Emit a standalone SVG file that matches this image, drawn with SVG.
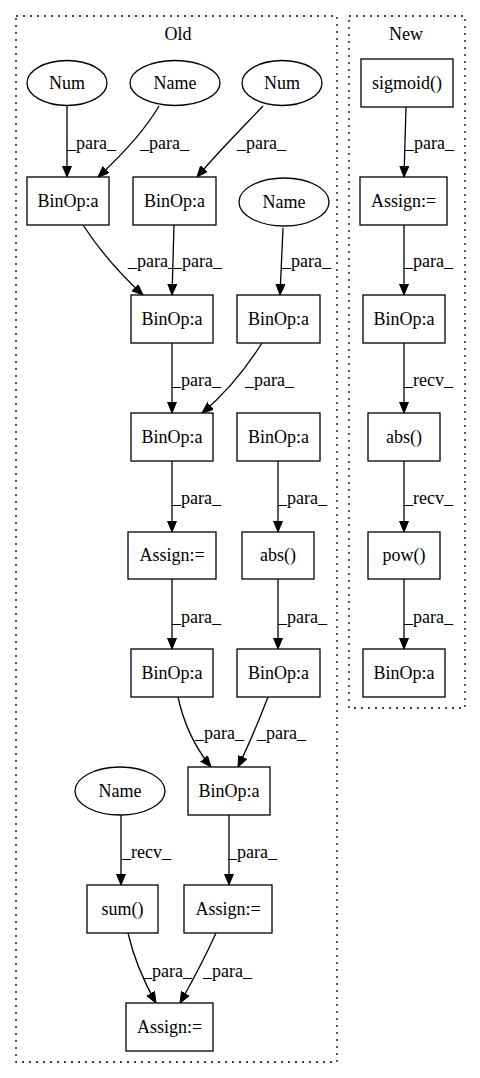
<svg xmlns="http://www.w3.org/2000/svg" width="480" height="1078" viewBox="0 0 480 1078" font-family="'Liberation Serif', 'DejaVu Serif', serif" font-size="18">
<defs>
<marker id="arr" markerUnits="userSpaceOnUse" markerWidth="12" markerHeight="10" refX="11" refY="4.5" orient="auto">
<path d="M0,0 L11,4.5 L0,9 z" fill="#000" stroke="#000"/>
</marker>
<style>
text{font-family:'Liberation Serif','DejaVu Serif',serif;font-size:18px;fill:#000}
.n rect,.n ellipse{fill:#fff;stroke:#000;stroke-width:1.3}
.n text{text-anchor:middle}
.c{fill:none;stroke:#000;stroke-width:1.3;stroke-dasharray:2,5}
.e path{fill:none;stroke:#000;stroke-width:1.3;marker-end:url(#arr)}
.cl{text-anchor:middle}
</style>
</defs>
<rect width="480" height="1078" fill="#fff"/>
<g id="cluster_old">
<rect class="c" x="16" y="16" width="321" height="1046"/>
<text class="cl" x="178" y="40">Old</text>
</g>
<g id="cluster_new">
<rect class="c" x="349" y="16" width="116" height="692"/>
<text class="cl" x="406" y="40">New</text>
</g>
<g id="edges" class="e">
<path d="M67,105 L67,177"/>
<path d="M159,106 C148,125 125,152 98,177"/>
<path d="M263,106 C245,125 218,152 197,177"/>
<path d="M83,225 C98,248 118,272 143,295"/>
<path d="M174,225 L172,295"/>
<path d="M283,228 L280,295"/>
<path d="M172,343 L172,413"/>
<path d="M262,343 C250,362 230,390 202,413"/>
<path d="M172,461 L172,532"/>
<path d="M278,461 L278,532"/>
<path d="M172,579 L172,649"/>
<path d="M278,579 L278,649"/>
<path d="M178,697 C183,720 193,745 211,767"/>
<path d="M268,697 C260,718 250,742 238,767"/>
<path d="M121,815 L121,885"/>
<path d="M229,815 L229,885"/>
<path d="M128,933 C133,955 143,980 156,1003"/>
<path d="M216,933 C207,953 193,980 180,1003"/>
<path d="M406,107 L404,177"/>
<path d="M404,225 L404,295"/>
<path d="M404,343 L404,413"/>
<path d="M404,461 L404,532"/>
<path d="M404,579 L404,649"/>
</g>
<g id="edge_labels">
<text x="67" y="149">_para_</text>
<text x="140" y="149">_para_</text>
<text x="237" y="149">_para_</text>
<text x="128" y="267">_para_</text>
<text x="173" y="267">_para_</text>
<text x="282" y="267">_para_</text>
<text x="172" y="386">_para_</text>
<text x="245" y="386">_para_</text>
<text x="172" y="504">_para_</text>
<text x="278" y="504">_para_</text>
<text x="172" y="623">_para_</text>
<text x="278" y="623">_para_</text>
<text x="195" y="739">_para_</text>
<text x="257" y="739">_para_</text>
<text x="122" y="858">_recv_</text>
<text x="228" y="858">_para_</text>
<text x="143" y="977">_para_</text>
<text x="203" y="977">_para_</text>
<text x="405" y="149">_para_</text>
<text x="404" y="267">_para_</text>
<text x="404" y="386">_recv_</text>
<text x="404" y="504">_recv_</text>
<text x="404" y="623">_para_</text>
</g>
<g id="num1" class="n"><ellipse cx="67" cy="83" rx="40" ry="22.5"/><text x="67" y="89">Num</text></g>
<g id="name1" class="n"><ellipse cx="175" cy="83" rx="45" ry="22.5"/><text x="175" y="89">Name</text></g>
<g id="num2" class="n"><ellipse cx="282" cy="83" rx="40" ry="22.5"/><text x="282" y="89">Num</text></g>
<g id="name2" class="n"><ellipse cx="284" cy="202" rx="45" ry="24"/><text x="284" y="208">Name</text></g>
<g id="binop1" class="n"><rect x="27" y="177" width="82" height="48"/><text x="68" y="207">BinOp:a</text></g>
<g id="binop2" class="n"><rect x="133" y="177" width="83" height="48"/><text x="174.5" y="207">BinOp:a</text></g>
<g id="binop3" class="n"><rect x="131" y="295" width="82" height="48"/><text x="172" y="325">BinOp:a</text></g>
<g id="binop4" class="n"><rect x="237" y="295" width="83" height="48"/><text x="278.5" y="325">BinOp:a</text></g>
<g id="binop5" class="n"><rect x="131" y="413" width="82" height="48"/><text x="172" y="443">BinOp:a</text></g>
<g id="binop6" class="n"><rect x="237" y="413" width="83" height="48"/><text x="278.5" y="443">BinOp:a</text></g>
<g id="assign1" class="n"><rect x="128" y="532" width="88" height="47"/><text x="172" y="561">Assign:=</text></g>
<g id="abs1" class="n"><rect x="242" y="532" width="72" height="47"/><text x="278" y="561">abs()</text></g>
<g id="binop7" class="n"><rect x="131" y="649" width="82" height="48"/><text x="172" y="679">BinOp:a</text></g>
<g id="binop8" class="n"><rect x="237" y="649" width="83" height="48"/><text x="278.5" y="679">BinOp:a</text></g>
<g id="name3" class="n"><ellipse cx="120" cy="791" rx="45" ry="24"/><text x="120" y="797">Name</text></g>
<g id="binop9" class="n"><rect x="188" y="767" width="82" height="48"/><text x="229" y="797">BinOp:a</text></g>
<g id="sum" class="n"><rect x="87" y="885" width="71" height="48"/><text x="122.5" y="915">sum()</text></g>
<g id="assign2" class="n"><rect x="184" y="885" width="88" height="48"/><text x="228" y="915">Assign:=</text></g>
<g id="assign3" class="n"><rect x="126" y="1003" width="87" height="48"/><text x="169.5" y="1033">Assign:=</text></g>
<g id="sigmoid" class="n"><rect x="361" y="59" width="92" height="48"/><text x="407" y="89">sigmoid()</text></g>
<g id="assign_new" class="n"><rect x="360" y="177" width="87" height="48"/><text x="403.5" y="207">Assign:=</text></g>
<g id="binop_new1" class="n"><rect x="363" y="295" width="82" height="48"/><text x="404" y="325">BinOp:a</text></g>
<g id="abs_new" class="n"><rect x="368" y="413" width="72" height="48"/><text x="404" y="443">abs()</text></g>
<g id="pow_new" class="n"><rect x="368" y="532" width="72" height="47"/><text x="404" y="561">pow()</text></g>
<g id="binop_new2" class="n"><rect x="363" y="649" width="82" height="48"/><text x="404" y="679">BinOp:a</text></g>
</svg>
